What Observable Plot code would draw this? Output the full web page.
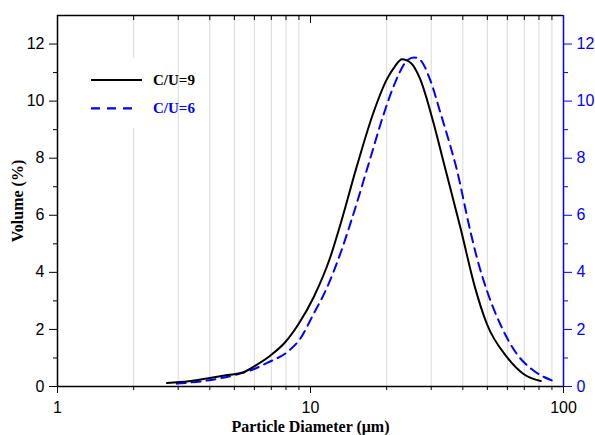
<!DOCTYPE html>
<html><head><meta charset="utf-8">
<script src="https://cdn.jsdelivr.net/npm/d3@7"></script>
<script src="https://cdn.jsdelivr.net/npm/@observablehq/plot@0.6"></script>
<style>
body{margin:0;background:#fff;}
#wrap{position:relative;width:595px;height:435px;overflow:hidden;}
g[aria-label="x-axis label"] text, g[aria-label="y-axis label"] text{font-family:"Liberation Serif",serif;font-weight:bold;font-size:16px;}
#swatches{position:absolute;left:86px;top:58px;width:60px;height:70px;background:#fff;}
.lt{position:absolute;left:153px;font-family:"Liberation Serif",serif;font-weight:bold;font-size:15px;line-height:18px;}
</style></head>
<body><div id="wrap"></div>
<script>
// C/U=9 (solid black)
const cu9Diameter = [2.71, 3.3, 3.9, 4.7, 5.4, 6.1, 6.93, 7.94, 8.97, 10.28, 11.96, 13.1, 15.26, 17.74, 20.05, 21.5, 23.0, 25.0, 27.14, 30.6, 33.6, 39.3, 44.6, 49.8, 59.8, 69.5, 81.4];
const cu9Volume   = [0.12, 0.18, 0.28, 0.40, 0.49, 0.75, 1.08, 1.55, 2.19, 3.12, 4.52, 5.65, 7.73, 9.6, 10.77, 11.2, 11.47, 11.33, 10.77, 9.25, 7.85, 5.5, 3.5, 2.19, 1.03, 0.44, 0.19];
// C/U=6 (dashed blue)
const cu6Diameter = [2.96, 3.9, 5.12, 5.78, 6.82, 8.07, 9.1, 10.28, 11.6, 13.1, 14.57, 16.96, 19.4, 21.6, 23.7, 25.6, 27.1, 29.7, 32.6, 35.7, 37.5, 42.8, 45.5, 49.8, 56.2, 65.4, 76.1, 90];
const cu6Volume   = [0.10, 0.21, 0.42, 0.56, 0.85, 1.2, 1.67, 2.54, 3.45, 4.64, 5.87, 7.79, 9.5, 10.65, 11.35, 11.53, 11.45, 10.75, 9.6, 8.43, 7.75, 5.46, 4.5, 3.36, 2.19, 1.14, 0.56, 0.21];
const seriesNames = ["C/U=9", "C/U=6"];
const xTicks = [1, 10, 100];
const xMinorTicks = [2, 3, 4, 5, 6, 7, 8, 9, 20, 30, 40, 50, 60, 70, 80, 90];
const yTicks = [0, 2, 4, 6, 8, 10, 12];
const yMinorTicks = [1, 3, 5, 7, 9, 11];
const xLabel = "Particle Diameter (\u03bcm)";
const yLabel = "Volume (%)";

const blue = "#0000ff";
const cu9 = cu9Diameter.map((d, i) => ({d, v: cu9Volume[i]}));
const cu6 = cu6Diameter.map((d, i) => ({d, v: cu6Volume[i]}));
const noText = () => "";

const chart = Plot.plot({
  width: 595, height: 435,
  marginLeft: 57, marginRight: 32, marginTop: 15, marginBottom: 49,
  style: {fontFamily: "'Liberation Sans', Arial, sans-serif", fontSize: "16px", color: "#000", background: "#fff"},
  x: {type: "log", domain: [1, 100]},
  y: {domain: [0, 13]},
  marks: [
    Plot.ruleX(xMinorTicks, {stroke: "#d9d9d9", strokeWidth: 1}),
    Plot.line(cu6, {x: "d", y: "v", stroke: blue, strokeWidth: 2, strokeDasharray: "9,6", curve: "monotone-x"}),
    Plot.line(cu9, {x: "d", y: "v", stroke: "#000", strokeWidth: 2, curve: "monotone-x"}),
    Plot.ruleY([0], {stroke: "#000", strokeWidth: 1.5}),
    Plot.ruleY([13], {stroke: "#000", strokeWidth: 1.5}),
    Plot.ruleX([1], {stroke: "#000", strokeWidth: 1.5}),
    Plot.ruleX([100], {stroke: blue, strokeWidth: 1.5}),
    Plot.axisX({ticks: xTicks, tickSize: 7, tickPadding: 8, tickFormat: d => String(d), label: xLabel, labelAnchor: "center", labelArrow: false, labelOffset: 45}),
    Plot.axisX({ticks: xMinorTicks, tickSize: 4, tickFormat: noText, label: null}),
    Plot.axisX({anchor: "top", ticks: [10], tickSize: -7, tickFormat: noText, label: null}),
    Plot.axisX({anchor: "top", ticks: xMinorTicks, tickSize: -4, tickFormat: noText, label: null}),
    Plot.axisY({ticks: yTicks, tickSize: 8, tickPadding: 5, label: yLabel, labelAnchor: "center", labelArrow: false, labelOffset: 46}),
    Plot.axisY({ticks: yMinorTicks, tickSize: 4, tickFormat: noText, label: null}),
    Plot.axisY({anchor: "right", ticks: yTicks, tickSize: 8, tickPadding: 5, color: blue, label: null}),
    Plot.axisY({anchor: "right", ticks: yMinorTicks, tickSize: 4, tickFormat: noText, color: blue, label: null})
  ]
});
const wrap = document.getElementById("wrap");
wrap.appendChild(chart);

// legend
const sw = document.createElement("div");
sw.id = "swatches";
sw.innerHTML = `<svg width="60" height="70">
  <line x1="5" x2="56" y1="22" y2="22" stroke="#000" stroke-width="2"/>
  <line x1="5" x2="48" y1="50.3" y2="50.3" stroke="${blue}" stroke-width="2.2" stroke-dasharray="9,7"/>
</svg>`;
wrap.appendChild(sw);
const colors = ["#000", blue];
const tops = [71, 99];
seriesNames.forEach((n, i) => {
  const t = document.createElement("div");
  t.className = "lt";
  t.style.top = tops[i] + "px";
  t.style.color = colors[i];
  t.textContent = n;
  wrap.appendChild(t);
});
</script></body></html>
